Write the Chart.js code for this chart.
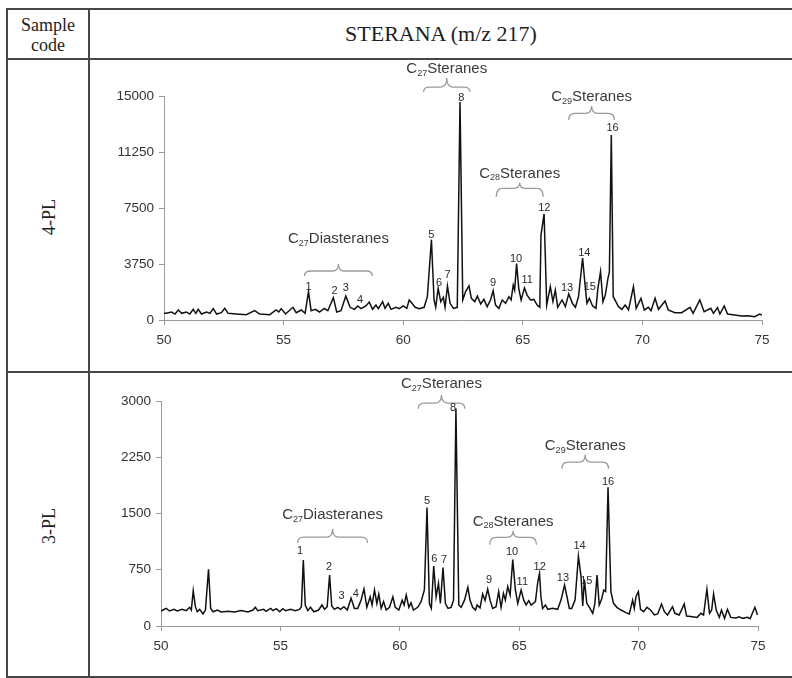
<!DOCTYPE html>
<html><head><meta charset="utf-8">
<script src="https://cdn.jsdelivr.net/npm/chart.js@4.4.1/dist/chart.umd.min.js"></script>
<style>
html,body{margin:0;padding:0;background:#fff;}
#page{position:relative;width:792px;height:678px;overflow:hidden;font-family:"Liberation Serif","Times New Roman",serif;color:#1e1e1e;}
.hl{position:absolute;left:6px;width:786px;height:2px;background:#474747;}
.vl{position:absolute;top:8px;width:2px;height:670px;background:#474747;}
.cv{position:absolute;left:90px;}
.rot{position:absolute;transform:translate(-50%,-50%) rotate(-90deg);font-size:18px;white-space:nowrap;}
</style></head>
<body><div id="page">
<div class="hl" style="top:8px"></div>
<div class="hl" style="top:58px"></div>
<div class="hl" style="top:371px"></div>
<div class="hl" style="top:676px"></div>
<div class="vl" style="left:6px"></div>
<div class="vl" style="left:88px"></div>
<div style="position:absolute;left:8px;top:15px;width:80px;text-align:center;font-size:18px;line-height:20px;">Sample<br>code</div>
<div style="position:absolute;left:90px;top:10px;width:702px;height:48px;line-height:48px;text-align:center;font-size:22px;">STERANA (m/z 217)</div>
<div class="rot" style="left:49px;top:217px;">4-PL</div>
<div class="rot" style="left:49px;top:526px;">3-PL</div>
<canvas id="c1" class="cv" style="top:60px" width="702" height="311"></canvas>
<canvas id="c2" class="cv" style="top:373px" width="702" height="303"></canvas>
</div>
<script>
// ---------- data ----------
const xTicks = [50, 55, 60, 65, 70, 75];
const yTicks4PL = [0, 3750, 7500, 11250, 15000];
const yTicks3PL = [0, 750, 1500, 2250, 3000];

// 4-PL trace: retention time (min) / abundance
const rt4PL = [50.0,50.1,50.32,50.46,50.6,50.74,50.94,51.08,51.22,51.33,51.43,51.57,51.78,51.92,52.06,52.2,52.4,52.54,52.68,53.03,53.44,53.79,54.0,54.42,54.69,54.8,54.9,55.08,55.39,55.53,55.74,55.9,56.04,56.15,56.33,56.5,56.7,56.85,57.08,57.22,57.4,57.6,57.78,57.96,58.1,58.24,58.44,58.58,58.72,58.86,58.96,59.14,59.24,59.375,59.49,59.7,59.83,60.0,60.15,60.25,60.35,60.5,60.67,60.875,61.01,61.18,61.29,61.36,61.46,61.57,61.68,61.75,61.85,61.96,62.1,62.26,62.375,62.49,62.61,62.75,62.85,62.99,63.1,63.24,63.375,63.51,63.65,63.76,63.86,64.0,64.14,64.28,64.42,64.51,64.6,64.66,64.74,64.83,64.93,65.07,65.18,65.32,65.46,65.6,65.71,65.76,65.89,66.0,66.15,66.26,66.36,66.46,66.64,66.78,66.92,67.08,67.2,67.33,67.5,67.61,67.68,67.78,67.92,68.06,68.14,68.25,68.35,68.45,68.56,68.62,68.7,68.78,68.89,69.0,69.14,69.28,69.42,69.625,69.74,69.94,70.08,70.25,70.36,70.53,70.67,70.95,71.08,71.36,71.64,71.99,72.12,72.4,72.58,72.86,72.97,73.14,73.24,73.42,73.56,73.86,74.14,74.42,74.7,74.9,75.0];
const int4PL = [450,446,536,400,670,446,536,400,714,446,714,400,536,446,760,400,490,780,446,400,360,625,400,360,670,536,760,400,850,490,670,446,1900,625,714,536,780,625,1500,536,625,1600,850,714,940,760,940,1200,714,1000,760,1230,780,1116,714,850,760,940,780,1340,1160,850,760,850,1560,5380,1340,850,2120,1230,1520,850,2280,1116,780,850,14600,1340,1900,2280,1450,1230,1600,1070,1380,890,1340,1960,1000,780,1340,1116,1560,1340,2340,2000,3780,2120,1340,2150,1670,1340,1380,1000,850,5690,7100,1000,2230,1230,2000,850,1340,890,1750,1100,850,1560,4150,2230,1116,1450,940,780,2120,3240,1230,1670,2790,3200,12390,1560,1230,890,714,1000,670,2230,780,1450,670,850,625,1450,714,1270,670,490,490,850,446,1340,560,780,446,830,400,940,400,330,270,290,220,400,330];

// 3-PL trace
const rt3PL = [50.0,50.08,50.22,50.36,50.54,50.68,50.88,51.06,51.2,51.27,51.35,51.44,51.52,51.62,51.76,51.86,51.99,52.08,52.18,52.36,52.52,52.8,53.08,53.36,53.64,53.85,53.95,54.05,54.3,54.4,54.59,54.69,54.83,54.97,55.1,55.22,55.43,55.62,55.8,55.88,55.96,56.04,56.15,56.26,56.4,56.6,56.74,56.85,56.96,57.06,57.15,57.26,57.4,57.52,57.66,57.8,57.96,58.1,58.24,58.38,58.5,58.62,58.76,58.84,58.94,59.04,59.12,59.22,59.32,59.43,59.57,59.71,59.81,59.96,60.1,60.18,60.27,60.38,60.47,60.57,60.75,60.89,61.03,61.14,61.24,61.32,61.42,61.52,61.62,61.7,61.81,61.91,62.02,62.15,62.25,62.35,62.47,62.57,62.71,62.85,62.94,63.05,63.17,63.24,63.36,63.47,63.57,63.68,63.78,63.89,64.03,64.14,64.24,64.34,64.42,64.52,64.62,64.73,64.84,64.94,65.08,65.19,65.29,65.4,65.5,65.68,65.77,65.85,65.91,65.98,66.1,66.2,66.4,66.61,66.75,66.9,67.0,67.1,67.2,67.34,67.48,67.59,67.66,67.73,67.83,67.94,68.08,68.17,68.26,68.35,68.45,68.54,68.62,68.72,68.84,68.95,69.09,69.26,69.47,69.61,69.75,69.82,69.89,69.99,70.08,70.21,70.35,70.5,70.66,70.8,70.96,71.08,71.21,71.42,71.52,71.7,71.91,72.01,72.26,72.45,72.61,72.72,72.86,72.97,73.06,73.14,73.25,73.38,73.47,73.6,73.72,73.86,74.07,74.21,74.35,74.56,74.67,74.87,74.98];
const int3PL = [200,213,235,200,222,200,222,205,249,213,470,258,190,222,160,213,755,235,190,213,187,195,187,205,187,213,250,205,222,195,235,205,231,190,231,205,222,205,222,258,880,280,205,249,190,213,280,222,258,680,267,222,249,222,258,213,370,235,235,347,495,249,390,280,480,300,425,235,325,213,249,390,249,213,345,280,413,249,310,213,249,325,480,1580,300,235,800,390,570,300,780,300,235,249,345,2900,280,249,345,515,345,249,213,280,240,427,340,490,345,235,258,458,249,435,345,525,413,885,480,300,480,345,280,338,280,325,570,700,390,235,280,222,235,222,345,547,390,235,235,345,930,658,267,620,302,249,169,302,680,280,355,480,460,1850,458,302,249,213,178,160,345,235,391,458,222,191,249,213,147,160,293,191,147,258,169,147,293,133,124,115,169,147,490,169,213,427,213,115,213,102,222,115,107,124,102,115,98,250,147];

// peak numbers
const peakIds = ['1','2','3','4','5','6','7','8','9','10','11','12','13','14','15','16'];
const peakRt4PL = [56.04,57.13,57.6,58.2,61.18,61.5,61.85,62.43,63.76,64.72,65.18,65.9,66.85,67.57,67.8,68.75];
const peakTxtY4PL = [2280,2010,2190,1390,5760,2570,3080,14950,2570,4170,2720,7550,2190,4570,2300,12900];
const peakRt3PL = [55.82,57.04,57.56,58.16,61.14,61.44,61.85,62.23,63.74,64.7,65.13,65.86,66.83,67.53,67.81,68.72];
const peakTxtY3PL = [1017,804,409,440,1684,906,893,2915,630,996,596,804,657,1076,617,1937];

// compound groups
const groupMain = ['C', 'C', 'C', 'C'];
const groupSub = ['27', '27', '28', '29'];
const groupRest = ['Diasteranes', 'Steranes', 'Steranes', 'Steranes'];
// bracket anchors (retention time from/to, abundance levels)
const brace4PL = [
  {from:55.875, to:58.71, level:3280, end:2946, tip:3750, label:5490},
  {from:60.85, to:62.79, level:15600, end:15270, tip:16200, label:16870},
  {from:63.89, to:65.85, level:8820, end:8260, tip:9190, label:9890},
  {from:66.92, to:68.83, level:13840, end:13390, tip:14330, label:15020}
];
const brace3PL = [
  {from:55.72, to:58.65, level:1186, end:1106, tip:1297, label:1497},
  {from:60.77, to:62.72, level:2973, end:2897, tip:3083, label:3240},
  {from:63.77, to:65.72, level:1182, end:1084, tip:1270, label:1409},
  {from:66.79, to:68.74, level:2186, end:2097, tip:2283, label:2417}
];

// ---------- drawing ----------
const SANS = '"Liberation Sans", Arial, sans-serif';

const annotPlugin = {
  id: 'annot',
  afterDatasetsDraw(chart, args, opts) {
    const ctx = chart.ctx, xs = chart.scales.x, ys = chart.scales.y;
    ctx.save();
    opts.braces.forEach((b, i) => {
      const xl = xs.getPixelForValue(b.from), xr = xs.getPixelForValue(b.to);
      const xm = (xl + xr) / 2;
      const yh = ys.getPixelForValue(b.level), ye = ys.getPixelForValue(b.end), yt = ys.getPixelForValue(b.tip);
      const r = 6;
      ctx.strokeStyle = '#9a9a9a';
      ctx.lineWidth = 1.3;
      ctx.beginPath();
      ctx.moveTo(xl, ye);
      ctx.quadraticCurveTo(xl, yh, xl + r, yh);
      ctx.lineTo(xm - r, yh);
      ctx.quadraticCurveTo(xm, yh, xm, yt);
      ctx.quadraticCurveTo(xm, yh, xm + r, yh);
      ctx.lineTo(xr - r, yh);
      ctx.quadraticCurveTo(xr, yh, xr, ye);
      ctx.stroke();
      const fMain = 15, fSub = 9;
      const cy = ys.getPixelForValue(b.label);
      ctx.font = fMain + 'px ' + SANS;
      const w1 = ctx.measureText(groupMain[i]).width;
      const w3 = ctx.measureText(groupRest[i]).width;
      ctx.font = fSub + 'px ' + SANS;
      const w2 = ctx.measureText(groupSub[i]).width;
      const x0 = xm - (w1 + w2 + w3) / 2;
      const base = cy + 0.358 * fMain;
      ctx.fillStyle = '#3a3a3a';
      ctx.textAlign = 'left';
      ctx.textBaseline = 'alphabetic';
      ctx.font = fMain + 'px ' + SANS;
      ctx.fillText(groupMain[i], x0, base);
      ctx.font = fSub + 'px ' + SANS;
      ctx.fillText(groupSub[i], x0 + w1, base + 2.5);
      ctx.font = fMain + 'px ' + SANS;
      ctx.fillText(groupRest[i], x0 + w1 + w2, base);
    });
    ctx.font = '11px ' + SANS;
    ctx.fillStyle = '#2a2a2a';
    ctx.textAlign = 'center';
    ctx.textBaseline = 'alphabetic';
    peakIds.forEach((id, i) => {
      const px = xs.getPixelForValue(opts.peakRt[i]);
      const py = ys.getPixelForValue(opts.peakY[i]);
      ctx.fillText(id, px, py + 4);
    });
    ctx.restore();
  }
};

function makeChart(id, rt, ints, yTicks, yMax, yWidth, xHeight, padTop, padRight, braces, peakRt, peakY) {
  const axisColor = '#9a9a9a';
  return new Chart(document.getElementById(id), {
    type: 'line',
    data: {
      datasets: [{
        data: rt.map((t, i) => ({x: t, y: ints[i]})),
        borderColor: '#111',
        borderWidth: 1.5,
        pointRadius: 0,
        tension: 0,
        fill: false
      }]
    },
    options: {
      responsive: false,
      animation: false,
      devicePixelRatio: 1,
      layout: {padding: {left: 0, right: padRight, top: padTop, bottom: 0}},
      plugins: {
        legend: {display: false},
        tooltip: {enabled: false},
        annot: {braces: braces, peakRt: peakRt, peakY: peakY}
      },
      scales: {
        x: {
          type: 'linear', min: 50, max: 75,
          afterBuildTicks: s => { s.ticks = xTicks.map(v => ({value: v})); },
          afterFit: s => { s.height = xHeight; },
          grid: {drawOnChartArea: false, drawTicks: true, tickLength: 5, color: axisColor},
          border: {color: axisColor, width: 1},
          ticks: {color: '#333', font: {family: SANS, size: 13.5}, padding: 7, maxRotation: 0, callback: v => String(v)}
        },
        y: {
          type: 'linear', min: 0, max: yMax,
          afterBuildTicks: s => { s.ticks = yTicks.map(v => ({value: v})); },
          afterFit: s => { s.width = yWidth; },
          grid: {drawOnChartArea: false, drawTicks: true, tickLength: 5, color: axisColor},
          border: {color: axisColor, width: 1},
          ticks: {color: '#333', font: {family: SANS, size: 13.5}, padding: 5, callback: v => String(v)}
        }
      }
    },
    plugins: [annotPlugin]
  });
}

makeChart('c1', rt4PL, int4PL, yTicks4PL, 15000, 74, 51, 36, 30, brace4PL, peakRt4PL, peakTxtY4PL);
makeChart('c2', rt3PL, int3PL, yTicks3PL, 3000, 71, 50, 28, 34, brace3PL, peakRt3PL, peakTxtY3PL);
</script>
</body></html>
